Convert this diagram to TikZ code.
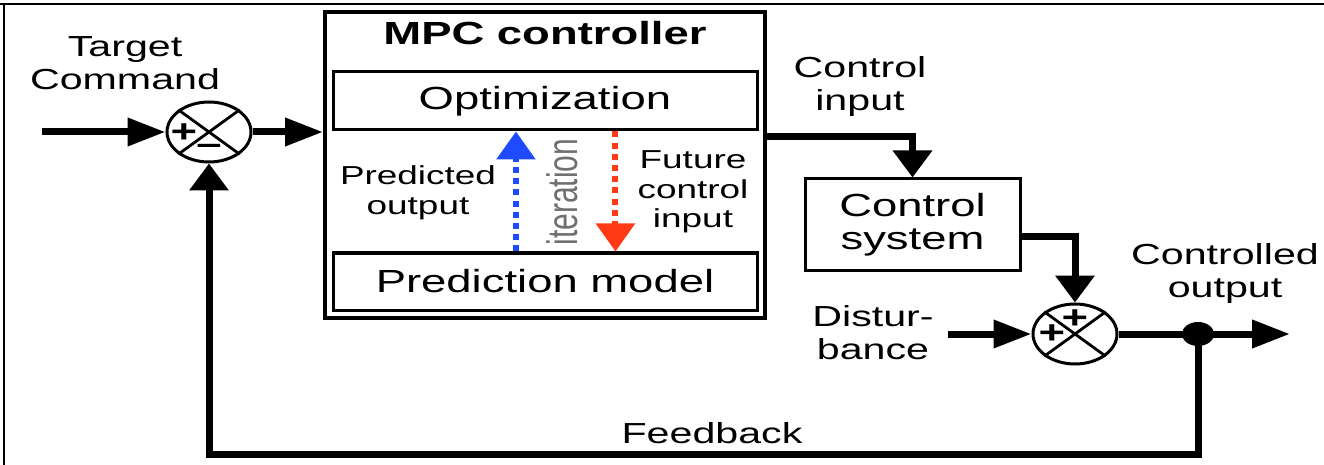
\documentclass[tikz,border=0pt]{standalone}
\usepackage{fontspec}
\setmainfont{Liberation Sans}[FakeStretch=1.42]
\newfontfamily\narrowfont{Liberation Sans}
\usetikzlibrary{arrows.meta,positioning,shapes.geometric,calc}
\definecolor{iterblue}{HTML}{1E4BFF}
\definecolor{iterred}{HTML}{FF3A14}
\definecolor{itergray}{HTML}{707070}

\begin{document}
\begin{tikzpicture}[
  x=0.5pt, y=-0.5pt,
  block/.style={
    draw,
    line width=1.5pt,
    minimum width=212pt,
    minimum height=29pt,
    inner sep=0pt,
    font=\fontsize{16}{18}\selectfont
  },
  sumjunction/.style={
    draw,
    ellipse,
    line width=1.5pt,
    minimum width=42pt,
    minimum height=30pt,
    inner sep=0pt
  },
  signlabel/.style={inner sep=0pt, font=\fontsize{16}{16}\selectfont\bfseries},
  sigtext/.style={align=center, font=\fontsize{14.5}{16.5}\selectfont},
  mpctext/.style={align=center, font=\fontsize{13}{14.8}\selectfont},
  hsignal/.style={
    line width=3.5pt,
    -{Triangle[length=19pt,width=13.5pt]}
  },
  vsignal/.style={
    line width=3.5pt,
    -{Triangle[length=13.5pt,width=19pt]}
  },
  plainline/.style={line width=3.5pt},
  loopflow/.style={
    line width=3pt,
    dash pattern=on 3pt off 2.6pt,
    -{Triangle[length=14pt,width=19pt]}
  }
]
  \useasboundingbox (0,0) rectangle (1324,465);

  % -------------------------------------------------------------
  % FRAME
  % -------------------------------------------------------------
  \draw[line width=1.2pt] (0,4) -- (1324,4);
  \draw[line width=0.8pt] (4,4) -- (4,465);

  % -------------------------------------------------------------
  % MPC CONTROLLER
  % -------------------------------------------------------------
  \node[draw, line width=2pt, minimum width=220pt, minimum height=153pt] (mpc) at (545,165) {};
  \node[font=\fontsize{16}{18}\selectfont\bfseries] (mpctitle) at (545,33) {MPC controller};

  \node[block] (opt) at (545,101) {Optimization};
  \node[block, minimum height=28.5pt] (pred) at (545,281.5) {Prediction model};

  \node[mpctext] (predlbl) at (418,193) {Predicted\\output};
  \node[mpctext] (futlbl) at (693,192) {Future\\control\\input};
  \node[text=itergray, inner sep=0pt] (iter) at (562,192)
    {\scalebox{1.42}[1]{\rotatebox{90}{\narrowfont\fontsize{15}{16}\selectfont iteration}}};

  % iteration arrows
  \draw[loopflow, color=iterblue] ($(pred.north west)!0.432!(pred.north east)$) -- ($(opt.south west)!0.432!(opt.south east)$);
  \draw[loopflow, color=iterred] ($(opt.south west)!0.665!(opt.south east)$) -- ($(pred.north west)!0.665!(pred.north east)$);

  % -------------------------------------------------------------
  % SUMMING JUNCTIONS, PLANT, TAP
  % -------------------------------------------------------------
  \node[sumjunction] (sum1) at (209,132) {};
  \draw[line width=1.4pt] (sum1.north west) -- (sum1.south east) (sum1.north east) -- (sum1.south west);
  \node[signlabel] at ($(sum1)+(-25,1)$) {+};
  \node[signlabel] at ($(sum1)+(0,17)$) {–};

  \node[block, minimum width=107.5pt, minimum height=45.5pt, align=center, font=\fontsize{16}{16.5}\selectfont] (plant) at (912.5,224.5) {Control\\system};

  \node[sumjunction] (sum2) at (1075,334) {};
  \draw[line width=1.4pt] (sum2.north west) -- (sum2.south east) (sum2.north east) -- (sum2.south west);
  \node[signlabel] at ($(sum2)+(0,-15)$) {+};
  \node[signlabel] at ($(sum2)+(-23,0)$) {+};

  \node[ellipse, fill, minimum width=16pt, minimum height=12pt, inner sep=0pt] (tap) at (1198,334) {};

  % -------------------------------------------------------------
  % SIGNAL LABELS
  % -------------------------------------------------------------
  \node[sigtext] (cmdlbl) at (125,63) {Target\\Command};
  \node[sigtext] (ulbl) at (860,87) {Control\\input};
  \node[sigtext] (distlbl) at (873,333) {Distur-\\bance};
  \node[sigtext] (ylbl) at (1225,274) {Controlled\\output};
  \node[sigtext] (fblbl) at (712,433) {Feedback};

  % -------------------------------------------------------------
  % CONNECTORS
  % -------------------------------------------------------------
  \coordinate (cmdin) at (42,132);
  \coordinate (distin) at (948,334);
  \coordinate (yout) at (1290,334);

  \draw[hsignal] (cmdin) -- (sum1.west);
  \draw[hsignal] (sum1.east) -- (sum1.east -| mpc.west);
  \draw[vsignal] ($(mpc.north east)+(0,127)$) -| (plant.north);
  \draw[vsignal] ($(plant.east)+(0,12.5)$) -| (sum2.north);
  \draw[hsignal] (distin) -- (sum2.west);
  \draw[plainline] (sum2.east) -- (tap.center);
  \draw[hsignal] (tap.center) -- (yout);
  \draw[vsignal] (tap.center) -- ++(0,120) -| (sum1.south);

\end{tikzpicture}
\end{document}
